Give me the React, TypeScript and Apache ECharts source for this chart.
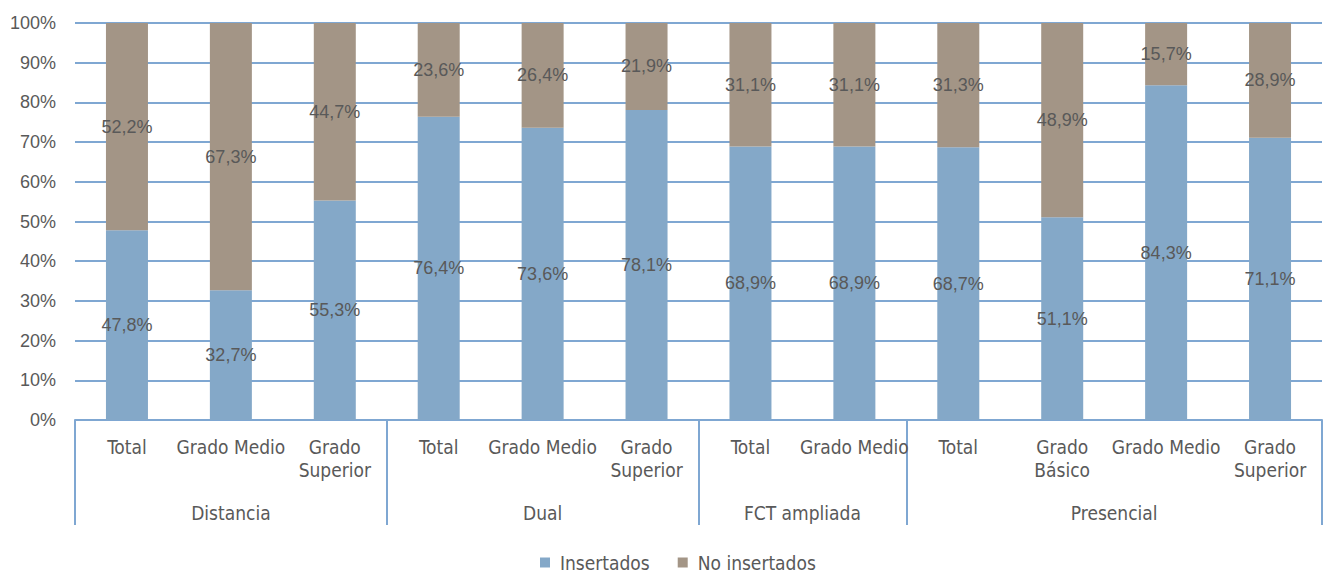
import React, { useEffect, useRef } from "react";
import * as echarts from "echarts";

const categories = [
  "Total", "Grado Medio", "Grado\nSuperior",
  "Total", "Grado Medio", "Grado\nSuperior",
  "Total", "Grado Medio",
  "Total", "Grado\nBásico", "Grado Medio", "Grado\nSuperior",
];
const insertados = [47.8, 32.7, 55.3, 76.4, 73.6, 78.1, 68.9, 68.9, 68.7, 51.1, 84.3, 71.1];
const noInsertados = [52.2, 67.3, 44.7, 23.6, 26.4, 21.9, 31.1, 31.1, 31.3, 48.9, 15.7, 28.9];
const groups = ["Distancia", "Dual", "FCT ampliada", "Presencial"];
const groupSizes = [3, 3, 2, 4];
const yTicks = [0, 10, 20, 30, 40, 50, 60, 70, 80, 90, 100];

const NARROW = "'Liberation Sans Narrow', 'Arial Narrow', 'DejaVu Sans Condensed', sans-serif";
const REG = "'Liberation Sans', Arial, sans-serif";
const TXT = "#595959";
const LINE = "#7FA7D2";

export default function App() {
  const ref = useRef<HTMLDivElement>(null);
  useEffect(() => {
    if (!ref.current) return;
    const chart = echarts.init(ref.current, null, { renderer: "svg" });
    const bounds: number[] = [0];
    const centers: number[] = [];
    groupSizes.forEach((s) => {
      const start = bounds[bounds.length - 1];
      centers.push(start + s / 2);
      bounds.push(start + s);
    });
    const fmt = (p: any) => p.value.toFixed(1).replace(".", ",") + "%";
    chart.setOption({
      animation: false,
      grid: { left: 75, right: 4, top: 23, bottom: 154, containLabel: false },
      legend: {
        bottom: 2,
        padding: 0,
        left: 540,
        icon: "rect",
        itemWidth: 10,
        itemHeight: 10,
        itemGap: 28,
        textStyle: { fontFamily: NARROW, fontSize: 19, color: TXT, padding: [0, 0, 0, 5] },
        data: ["Insertados", "No insertados"],
      },
      xAxis: [
        {
          type: "category",
          data: categories,
          axisLine: { show: true, lineStyle: { color: LINE, width: 2 } },
          axisTick: { show: false },
          axisLabel: {
            interval: 0,
            margin: 15,
            fontFamily: NARROW,
            fontSize: 19,
            lineHeight: 23,
            color: TXT,
          },
        },
        {
          type: "value",
          position: "bottom",
          min: 0,
          max: categories.length,
          axisLine: { show: false },
          splitLine: { show: false },
          axisTick: {
            show: true,
            customValues: bounds,
            length: 105,
            lineStyle: { color: LINE, width: 2 },
          },
          axisLabel: {
            customValues: centers,
            margin: 83,
            fontFamily: NARROW,
            fontSize: 19,
            color: TXT,
            formatter: (v: number) => {
              const i = centers.findIndex((c) => Math.abs(c - v) < 1e-6);
              return i >= 0 ? groups[i] : "";
            },
          },
        },
      ],
      yAxis: {
        type: "value",
        min: yTicks[0],
        max: yTicks[yTicks.length - 1],
        interval: 10,
        axisLine: { show: false },
        axisTick: { show: false },
        splitLine: { lineStyle: { color: LINE, width: 2 } },
        axisLabel: {
          formatter: "{value}%",
          margin: 19,
          fontFamily: REG,
          fontSize: 18,
          color: TXT,
        },
      },
      series: [
        {
          name: "Insertados",
          type: "bar",
          stack: "t",
          xAxisIndex: 0,
          barWidth: 42,
          data: insertados,
          itemStyle: { color: "#84A8C8" },
          label: { show: true, position: "inside", formatter: fmt, fontFamily: REG, fontSize: 18, color: TXT },
        },
        {
          name: "No insertados",
          type: "bar",
          stack: "t",
          xAxisIndex: 0,
          barWidth: 42,
          data: noInsertados,
          itemStyle: { color: "#A39586" },
          label: { show: true, position: "inside", formatter: fmt, fontFamily: REG, fontSize: 18, color: TXT },
        },
      ],
    });
    return () => chart.dispose();
  }, []);
  return (
    <div
      ref={ref}
      style={{ position: "fixed", left: 0, top: 0, width: 1326, height: 574, background: "#fff" }}
    />
  );
}
